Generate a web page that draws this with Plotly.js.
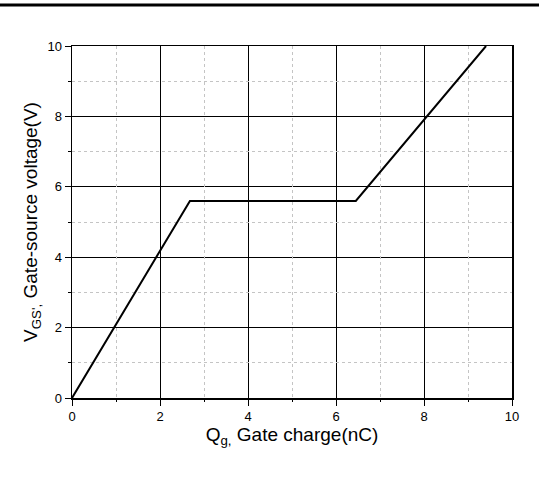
<!DOCTYPE html>
<html>
<head>
<meta charset="utf-8">
<script src="https://cdn.plot.ly/plotly-3.0.1.min.js"></script>
<style>html,body{margin:0;padding:0;background:#fff;}#chart{width:539px;height:482px;}</style>
</head>
<body>
<div id="chart"></div>
<script>
const chargeNC = [0, 2.68, 6.45, 9.41];
const voltageV = [0, 5.6, 5.6, 10];
const xTicks = [0, 2, 4, 6, 8, 10];
const yTicks = [0, 2, 4, 6, 8, 10];
const minorTicks = [1, 3, 5, 7, 9];

const fam = 'Liberation Sans, Arial, sans-serif';

function axis(ticks, titleText, standoff) {
  return {
    range: [0, 10], tickmode: 'array', tickvals: ticks, ticktext: ticks.map(String),
    showline: true, mirror: true, linecolor: '#000', linewidth: 1.5,
    showgrid: true, gridcolor: '#000', gridwidth: 1,
    ticks: 'outside', ticklen: 6, tickwidth: 1, tickcolor: '#000',
    zeroline: false,
    tickfont: {family: fam, size: 13, color: '#000'},
    title: {text: titleText, font: {family: fam, size: 19, color: '#000'}, standoff: standoff}
  };
}
function minorAxis(over, side) {
  return {
    overlaying: over, side: side, range: [0, 10], tickmode: 'array', tickvals: minorTicks,
    showticklabels: false, showline: false, zeroline: false,
    showgrid: true, gridcolor: '#c4c4c4', griddash: 'dot', gridwidth: 1,
    ticks: 'outside', ticklen: 3, tickwidth: 1, tickcolor: '#000'
  };
}

const data = [
  {x: chargeNC, y: voltageV, xaxis: 'x2', yaxis: 'y2', type: 'scatter', mode: 'lines',
   line: {color: 'rgba(0,0,0,0)', width: 0}, hoverinfo: 'skip'},
  {x: chargeNC, y: voltageV, type: 'scatter', mode: 'lines',
   line: {color: '#000', width: 2}, hoverinfo: 'skip'}
];

const layout = {
  width: 539, height: 482,
  margin: {l: 72, r: 27, t: 46, b: 84},
  paper_bgcolor: '#fff', plot_bgcolor: '#fff',
  showlegend: false,
  font: {family: fam, size: 13, color: '#000'},
  xaxis: axis(xTicks, 'Q<sub>g,</sub> Gate charge(nC)', 1),
  yaxis: axis(yTicks, 'V<sub>GS\',</sub> Gate-source voltage(V)', 5),
  xaxis2: minorAxis('x', 'bottom'),
  yaxis2: minorAxis('y', 'left'),
  shapes: [{
    type: 'line', xref: 'paper', yref: 'paper',
    x0: -72/440, x1: 467/440, y0: (398-5)/352, y1: (398-5)/352,
    line: {color: '#000', width: 3}
  }]
};

Plotly.newPlot('chart', data, layout, {displayModeBar: false, staticPlot: true});
</script>
</body>
</html>
